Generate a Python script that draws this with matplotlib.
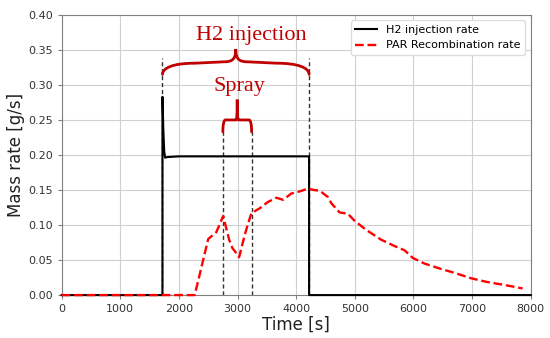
import matplotlib
matplotlib.use('Agg')
import matplotlib.pyplot as plt
from matplotlib.path import Path
from matplotlib.patches import PathPatch

plt.rcParams['font.family'] = 'DejaVu Sans'

# H2 injection rate [g/s]
h2_time = [0, 1720, 1720, 1735, 1750, 1765, 1800, 2000, 2500, 3000, 3500, 4000, 4220, 4220, 8000]
h2_rate = [0, 0, 0.283, 0.235, 0.205, 0.196, 0.197, 0.198, 0.198, 0.198, 0.198, 0.198, 0.198, 0, 0]

# PAR recombination rate [g/s]
par_time = [0, 2270, 2500, 2640, 2755, 2857, 2913, 2960, 3027, 3123, 3180, 3237,
            3380, 3520, 3663, 3776, 3918, 4060, 4200, 4300, 4400, 4541, 4600,
            4740, 4882, 4996, 5195, 5450, 5677, 5847, 5989, 6187, 6443, 6727,
            6983, 7238, 7578, 7861]
par_rate = [0, 0, 0.080, 0.090, 0.113, 0.079, 0.067, 0.062, 0.054, 0.086, 0.102, 0.117,
            0.124, 0.133, 0.139, 0.136, 0.145, 0.148, 0.152, 0.150, 0.149, 0.140, 0.131,
            0.118, 0.116, 0.106, 0.093, 0.079, 0.070, 0.064, 0.053, 0.045, 0.038, 0.031,
            0.024, 0.019, 0.014, 0.0095]

inj_start, inj_end = 1720, 4220
spray_start, spray_end = 2750, 3240

brace_red = '#c00000'


def brace(ax, x0, x1, y_end, y_flat, y_tip, cw, tw, sag=0.0):
    # curly brace from bezier pieces; cw = corner width, tw = width of the tip curve
    xm = (x0 + x1) / 2
    yc = y_flat + sag
    verts = [(x0, y_end),
             (x0, y_end + 0.6 * (y_flat - y_end)), (x0 + 0.35 * cw, y_flat), (x0 + cw, y_flat),
             (xm - tw, yc),
             (xm - 0.3 * tw, yc), (xm, yc + 0.2 * (y_tip - yc)), (xm, y_tip),
             (xm, yc + 0.2 * (y_tip - yc)), (xm + 0.3 * tw, yc), (xm + tw, yc),
             (x1 - cw, y_flat),
             (x1 - 0.35 * cw, y_flat), (x1, y_end + 0.6 * (y_flat - y_end)), (x1, y_end)]
    codes = [Path.MOVETO,
             Path.CURVE4, Path.CURVE4, Path.CURVE4,
             Path.LINETO,
             Path.CURVE4, Path.CURVE4, Path.CURVE4,
             Path.CURVE4, Path.CURVE4, Path.CURVE4,
             Path.LINETO,
             Path.CURVE4, Path.CURVE4, Path.CURVE4]
    ax.add_patch(PathPatch(Path(verts, codes), fill=False, edgecolor=brace_red,
                           lw=2, capstyle='round', zorder=5))


fig = plt.figure(figsize=(5.5, 3.38), dpi=100)
ax = fig.add_axes([0.112, 0.127, 0.853, 0.829])

ax.plot(h2_time, h2_rate, color='black', lw=1.5, label='H2 injection rate', zorder=3,
        clip_on=False)
ax.plot(par_time, par_rate, color='red', ls='--', lw=1.7, label='PAR Recombination rate',
        zorder=4, clip_on=False)

# 注入期間とスプレー期間の縦線
for x in (inj_start, inj_end):
    ax.plot([x, x], [0, 0.338], color='#333333', ls='--', lw=1, dashes=(3, 2), zorder=2)
for x in (spray_start, spray_end):
    ax.plot([x, x], [0, 0.233], color='#333333', ls='--', lw=1, dashes=(3, 2), zorder=2)

brace(ax, inj_start, inj_end, 0.315, 0.331, 0.351, 550, 200, sag=0.002)
brace(ax, spray_start, spray_end, 0.233, 0.250, 0.279, 45, 25)

ax.text(3230, 0.364, 'H2 injection', color=brace_red, fontsize=16,
        family='Liberation Serif', ha='center', va='baseline')
ax.text(3040, 0.292, 'Spray', color=brace_red, fontsize=16,
        family='Liberation Serif', ha='center', va='baseline')

ax.set_xlim(0, 8000)
ax.set_ylim(0, 0.40)
ax.set_xticks(range(0, 8001, 1000))
ax.set_yticks([0, 0.05, 0.10, 0.15, 0.20, 0.25, 0.30, 0.35, 0.40])
ax.set_yticklabels(['0.00', '0.05', '0.10', '0.15', '0.20', '0.25', '0.30', '0.35', '0.40'])
ax.grid(True, color='#d0d0d0', lw=0.8)
ax.set_axisbelow(True)
for s in ax.spines.values():
    s.set_color('#808080')
ax.tick_params(labelsize=8, colors='#808080', labelcolor='#333333', length=3)
ax.set_xlabel('Time [s]', fontsize=12, color='#222222', labelpad=1)
ax.set_ylabel('Mass rate [g/s]', fontsize=12, color='#222222', labelpad=2)

ax.legend(loc='upper right', fontsize=8, framealpha=1, edgecolor='#dddddd')

fig.savefig('out.png', dpi=100)
